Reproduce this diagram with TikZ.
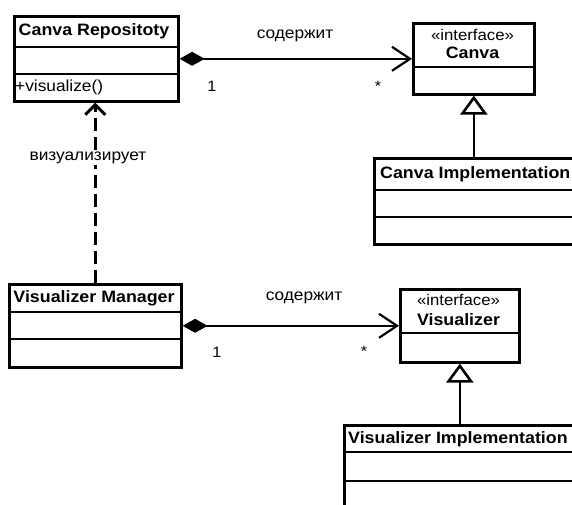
\documentclass[tikz,border=0pt]{standalone}
\usepackage{fontspec}
\setmainfont{Liberation Sans}[FakeStretch=1.08]
\usetikzlibrary{arrows.meta}
\begin{document}
\begin{tikzpicture}[x=1pt,y=-1pt,
  classbox/.style={draw, line width=2.6pt, inner sep=0pt, anchor=north west},
  divider/.style={line width=2.2pt},
  title/.style={font=\fontsize{16.5}{18}\selectfont\bfseries, inner sep=0pt},
  stereo/.style={font=\fontsize{15.5}{17}\selectfont, inner sep=0pt},
  member/.style={font=\fontsize{16}{17}\selectfont, inner sep=0pt, anchor=west},
  lbl/.style={font=\fontsize{16}{17}\selectfont, inner sep=1pt},
  mult/.style={font=\fontsize{15}{16}\selectfont, inner sep=0pt},
  assoc/.style={line width=2.2pt, {Diamond[length=25pt,width=14pt]}-{Straight Barb[length=18pt,width=24pt]}},
  gen/.style={line width=2.6pt, -{Triangle[open,fill=white,length=19pt,width=27pt]}},
  dep/.style={line width=3pt, dash pattern=on 13pt off 6pt, -{Straight Barb[length=10pt,width=20pt]}}
]
\clip (0,0) rectangle (572,504);
\fill[white] (0,0) rectangle (572,504);

% Canva Repositoty
\node[classbox, minimum width=164pt, minimum height=85pt] (cr) at (13,15) {};
\draw[divider] (cr.west |- 0,47) -- (cr.east |- 0,47);
\draw[divider] (cr.west |- 0,74) -- (cr.east |- 0,74);
\node[title] (crt) at (94,31) {Canva Repositoty};
\node[member] (crm) at (15,87) {+visualize()};

% interface Canva
\node[classbox, minimum width=121pt, minimum height=71pt] (ci) at (412,22) {};
\draw[divider] (ci.west |- 0,67) -- (ci.east |- 0,67);
\node[stereo] (cis) at (472.5,35) {«interface»};
\node[title] (cit) at (472.5,53) {Canva};

% Canva Implementation
\node[classbox, minimum width=240pt, minimum height=86pt] (cim) at (373,157) {};
\draw[divider] (cim.west |- 0,190) -- (cim.east |- 0,190);
\draw[divider] (cim.west |- 0,217) -- (cim.east |- 0,217);
\node[title, anchor=west] (cimt) at (380,174) {Canva Implementation};

% Visualizer Manager
\node[classbox, minimum width=172pt, minimum height=83pt] (vm) at (8,283) {};
\draw[divider] (vm.west |- 0,312) -- (vm.east |- 0,312);
\draw[divider] (vm.west |- 0,339) -- (vm.east |- 0,339);
\node[title] (vmt) at (94,298) {Visualizer Manager};

% interface Visualizer
\node[classbox, minimum width=119pt, minimum height=73pt] (vi) at (399,288) {};
\draw[divider] (vi.west |- 0,333) -- (vi.east |- 0,333);
\node[stereo] (vis) at (458.5,300) {«interface»};
\node[title] (vit) at (458.5,320) {Visualizer};

% Visualizer Implementation
\node[classbox, minimum width=260pt, minimum height=100pt] (vim) at (343,424) {};
\draw[divider] (vim.west |- 0,452) -- (vim.east |- 0,452);
\draw[divider] (vim.west |- 0,481) -- (vim.east |- 0,481);
\node[title, anchor=west] (vimt) at (348,439) {Visualizer Implementation};

% associations
\draw[assoc] (cr.east) -- (ci.west);
\node[lbl] (a1) at (295,36) {содержит};
\node[mult] (a1m) at (212,86) {1};
\node[mult] (a1n) at (378,86) {*};

\draw[assoc] (vm.east) -- (vi.west);
\node[lbl] (a2) at (304,298) {содержит};
\node[mult] (a2m) at (217,352) {1};
\node[mult] (a2n) at (364,351) {*};

% realizations
\draw[gen] (ci.south |- cim.north) -- (ci.south);
\draw[gen] (vi.south |- vim.north) -- (vi.south);

% dependency
\draw[dep] (vm.north) -- (vm.north |- cr.south);
\node[lbl, fill=white] (d1) at (88,158) {визуализирует};
\end{tikzpicture}
\end{document}
